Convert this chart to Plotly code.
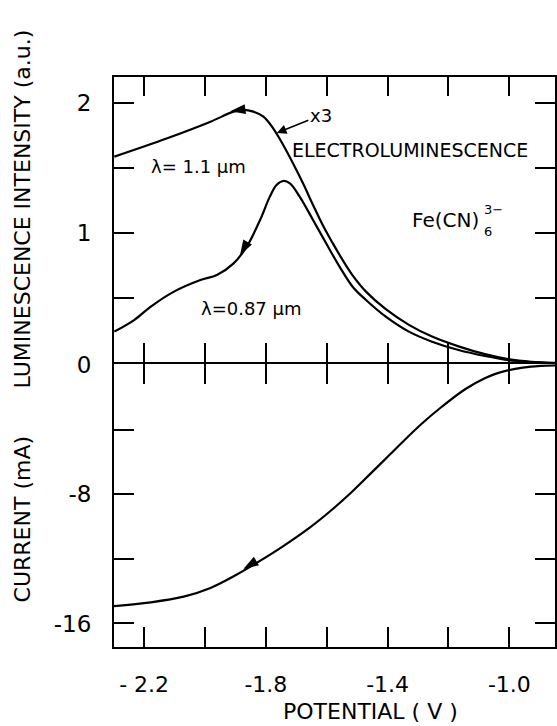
import plotly.graph_objects as go

# ---------------- data ----------------
# potential (V) and electroluminescence intensity (a.u.), lambda = 1.1 um (x3)
pot_11 = [-2.298, -2.124, -1.982, -1.906, -1.874, -1.841, -1.808, -1.776, -1.743,
          -1.711, -1.678, -1.645, -1.612, -1.580, -1.547, -1.515, -1.471, -1.406,
          -1.330, -1.254, -1.167, -1.080, -1.004, -0.928, -0.850]
lum_11 = [1.586, 1.727, 1.854, 1.931, 1.944, 1.931, 1.893, 1.803, 1.675,
          1.535, 1.381, 1.215, 1.055, 0.920, 0.790, 0.675, 0.550, 0.415,
          0.295, 0.205, 0.130, 0.070, 0.032, 0.012, 0.004]

# lambda = 0.87 um
pot_087 = [-2.298, -2.233, -2.178, -2.102, -2.015, -1.961, -1.906, -1.863, -1.819,
           -1.787, -1.765, -1.743, -1.721, -1.689, -1.645, -1.602, -1.558, -1.515,
           -1.471, -1.406, -1.330, -1.254, -1.167, -1.080, -1.004, -0.928, -0.850]
lum_087 = [0.243, 0.332, 0.435, 0.550, 0.639, 0.678, 0.767, 0.895, 1.100,
           1.279, 1.368, 1.399, 1.381, 1.279, 1.100, 0.921, 0.742, 0.588,
           0.486, 0.358, 0.243, 0.166, 0.102, 0.056, 0.025, 0.010, 0.0]

# current (mA)
pot_cur = [-2.299, -2.178, -2.070, -1.982, -1.907, -1.829, -1.744, -1.656, -1.581,
           -1.516, -1.451, -1.395, -1.340, -1.288, -1.222, -1.144, -1.079, -1.036,
           -0.981, -0.929, -0.850]
current = [-14.92, -14.69, -14.34, -13.80, -13.09, -12.23, -11.22, -10.06, -8.92,
           -7.82, -6.62, -5.58, -4.55, -3.62, -2.57, -1.47, -0.79, -0.47,
           -0.22, -0.08, 0.0]

# sweep-direction arrowheads
arrow_lum_pot = [-1.917, -1.885]
arrow_lum_val = [1.935, 0.83]
arrow_lum_ang = [262, 210]
arrow_cur_pot = [-1.874]
arrow_cur_val = [-12.62]
arrow_cur_ang = [239]

# ticks
x_tickvals = [-2.2, -2.0, -1.8, -1.6, -1.4, -1.2, -1.0]
x_ticktext = ["- 2.2", "", "-1.8", "", "-1.4", "", "-1.0"]
lum_tickvals = [0.5, 1.0, 1.5, 2.0]
lum_ticktext = ["", "1", "", "2"]
cur_tickvals = [0, -4, -8, -12, -16]
cur_ticktext = ["0", "", "-8", "", "-16"]

x_range = [-2.299, -0.850]
cur_range = [-17.458, 0.0615]
lum_range = [0.0077, 2.197]

FONT = "DejaVu Sans"
LW = 2.2

fig = go.Figure()
for xs, ys in [(pot_11, lum_11), (pot_087, lum_087)]:
    fig.add_trace(go.Scatter(x=xs, y=ys, xaxis="x2", yaxis="y2", mode="lines",
                             line=dict(color="black", width=LW, shape="spline", smoothing=1.0),
                             showlegend=False, hoverinfo="skip"))
fig.add_trace(go.Scatter(x=pot_cur, y=current, xaxis="x", yaxis="y", mode="lines",
                         line=dict(color="black", width=LW, shape="spline", smoothing=1.0),
                         showlegend=False, hoverinfo="skip"))
fig.add_trace(go.Scatter(x=arrow_lum_pot, y=arrow_lum_val, xaxis="x2", yaxis="y2", mode="markers",
                         marker=dict(symbol="arrow", size=16, color="black", angle=arrow_lum_ang,
                                     line=dict(width=0)),
                         showlegend=False, hoverinfo="skip"))
fig.add_trace(go.Scatter(x=arrow_cur_pot, y=arrow_cur_val, xaxis="x", yaxis="y", mode="markers",
                         marker=dict(symbol="arrow", size=16, color="black", angle=arrow_cur_ang,
                                     line=dict(width=0)),
                         showlegend=False, hoverinfo="skip"))

H = 726
t_m, b_m = 77, 79
plot_h = H - t_m - b_m
plot_w = 557 - 114
zero_px_from_bottom = (H - b_m) - 363.3
d1 = (zero_px_from_bottom - 1) / plot_h
d2 = (zero_px_from_bottom + 1) / plot_h

axis_common = dict(showline=True, linewidth=2, linecolor="black", mirror="ticks",
                   ticks="inside", tickwidth=2, tickcolor="black", showgrid=False,
                   zeroline=False)
tick_font = dict(family=FONT, size=23, color="black")

fig.update_layout(
    width=557, height=H,
    margin=dict(l=114, r=0, t=t_m, b=b_m, pad=0),
    paper_bgcolor="white", plot_bgcolor="white",
    font=dict(family=FONT, color="black"),
    xaxis=dict(anchor="y", domain=[0, 1], range=x_range, tickvals=x_tickvals,
               ticktext=x_ticktext, ticklen=20, ticklabelstandoff=17,
               tickfont=dict(family=FONT, size=22, color="black"), **axis_common),
    xaxis2=dict(anchor="y2", domain=[0, 1], matches="x", range=x_range, tickvals=x_tickvals,
                showticklabels=False, ticklen=19, **axis_common),
    yaxis=dict(anchor="x", domain=[0, d1], range=cur_range, tickvals=cur_tickvals,
               ticktext=cur_ticktext, ticklen=20, ticklabelstandoff=16,
               tickfont=tick_font, **axis_common),
    yaxis2=dict(anchor="x2", domain=[d2, 1], range=lum_range, tickvals=lum_tickvals,
                ticktext=lum_ticktext, ticklen=20, ticklabelstandoff=16,
                tickfont=tick_font, **axis_common),
)


def px_x(px):
    return (px - 114) / plot_w


def px_y(py):
    return ((H - b_m) - py) / plot_h


ann_font = dict(family=FONT, size=18, color="black")
C = dict(xanchor="center", yanchor="middle")
annotations = [
    dict(text="ELECTROLUMINESCENCE", x=-1.327, y=1.637, xref="x2", yref="y2",
         showarrow=False, font=dict(family=FONT, size=19, color="black"), **C),
    dict(text="λ= 1.1 µm", x=-2.022, y=1.507, xref="x2", yref="y2", showarrow=False,
         font=ann_font, **C),
    dict(text="λ=0.87 µm", x=-1.848, y=0.424, xref="x2", yref="y2", showarrow=False,
         font=ann_font, **C),
    dict(text="Fe(CN)", x=-1.211, y=1.10, xref="x2", yref="y2", showarrow=False,
         font=dict(family=FONT, size=20, color="black"), **C),
    dict(text="3−", x=-1.090, y=1.184, xref="x2", yref="y2", showarrow=False,
         xanchor="left", yanchor="middle", font=dict(family=FONT, size=13, color="black")),
    dict(text="6", x=-1.090, y=1.011, xref="x2", yref="y2", showarrow=False,
         xanchor="left", yanchor="middle", font=dict(family=FONT, size=13, color="black")),
    dict(text="x3", x=-1.764, y=1.767, xref="x2", yref="y2", showarrow=True,
         ax=44, ay=-18, arrowhead=2, arrowsize=1.2, arrowwidth=1.6, arrowcolor="black",
         font=ann_font),
    dict(text="POTENTIAL ( V )", x=px_x(372), y=px_y(711), xref="paper", yref="paper",
         showarrow=False, font=dict(family=FONT, size=22, color="black"), **C),
    dict(text="LUMINESCENCE INTENSITY (a.u.)", x=px_x(22), y=px_y(209),
         xref="paper", yref="paper", showarrow=False, textangle=-90,
         font=dict(family=FONT, size=22, color="black"), **C),
    dict(text="CURRENT (mA)", x=px_x(22), y=px_y(519),
         xref="paper", yref="paper", showarrow=False, textangle=-90,
         font=dict(family=FONT, size=22, color="black"), **C),
]
fig.update_layout(annotations=annotations)

fig.write_html("out.html")
